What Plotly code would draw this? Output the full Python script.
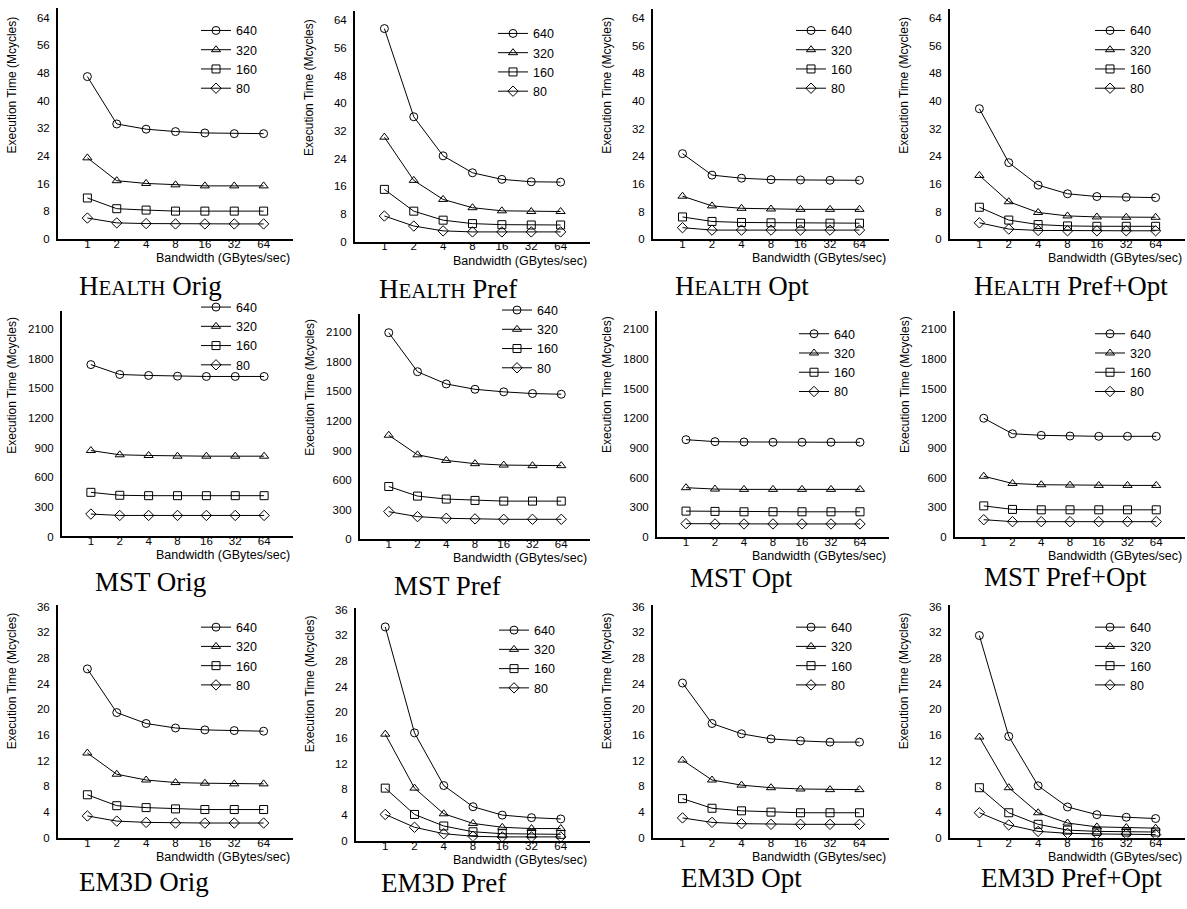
import math
import plotly.graph_objects as go

W, H = 1187, 909

# ---------------- data ----------------
bandwidth = [1, 2, 4, 8, 16, 32, 64]
bw_labels = ["1", "2", "4", "8", "16", "32", "64"]
series_names = ["640", "320", "160", "80"]

# each panel: rows = 640, 320, 160, 80 ; values in Mcycles
health_orig = [[47.0, 33.3, 31.8, 31.1, 30.7, 30.5, 30.5],
               [23.5, 16.9, 16.1, 15.7, 15.4, 15.4, 15.4],
               [11.9, 8.8, 8.4, 8.1, 8.1, 8.1, 8.1],
               [6.1, 4.7, 4.5, 4.4, 4.4, 4.4, 4.4]]
health_pref = [[61.6, 36.1, 24.8, 19.9, 18.0, 17.3, 17.2],
               [30.2, 17.7, 12.2, 9.8, 8.9, 8.7, 8.7],
               [15.1, 8.8, 6.2, 5.2, 4.9, 4.8, 4.8],
               [7.4, 4.5, 3.1, 2.8, 2.8, 2.8, 2.8]]
health_opt = [[24.8, 18.6, 17.7, 17.3, 17.2, 17.1, 17.1],
              [12.5, 9.7, 9.0, 8.8, 8.7, 8.7, 8.7],
              [6.5, 5.2, 4.9, 4.8, 4.7, 4.7, 4.7],
              [3.4, 2.7, 2.7, 2.7, 2.7, 2.7, 2.7]]
health_prefopt = [[37.8, 22.2, 15.7, 13.2, 12.4, 12.2, 12.1],
                  [18.5, 10.9, 7.8, 6.8, 6.5, 6.4, 6.4],
                  [9.3, 5.6, 4.3, 3.9, 3.8, 3.8, 3.8],
                  [4.8, 3.0, 2.6, 2.5, 2.5, 2.5, 2.5]]
mst_orig = [[1740, 1640, 1630, 1623, 1620, 1620, 1620],
            [870, 827, 820, 813, 813, 813, 813],
            [447, 417, 413, 413, 413, 413, 413],
            [227, 213, 213, 213, 213, 213, 213]]
mst_pref = [[2093, 1698, 1574, 1520, 1494, 1477, 1470],
            [1055, 857, 800, 767, 753, 747, 747],
            [536, 439, 409, 395, 388, 388, 388],
            [281, 231, 214, 208, 204, 204, 204]]
mst_opt = [[983, 963, 960, 957, 957, 957, 957],
           [497, 483, 480, 480, 480, 480, 480],
           [260, 257, 253, 253, 253, 253, 253],
           [133, 130, 130, 130, 130, 130, 130]]
mst_prefopt = [[1200, 1043, 1027, 1020, 1017, 1017, 1017],
               [613, 540, 527, 523, 520, 520, 520],
               [313, 277, 273, 273, 273, 273, 273],
               [173, 153, 153, 153, 153, 153, 153]]
em3d_orig = [[26.3, 19.5, 17.8, 17.1, 16.8, 16.7, 16.6],
             [13.2, 9.9, 9.0, 8.6, 8.5, 8.4, 8.4],
             [6.7, 5.0, 4.7, 4.5, 4.4, 4.4, 4.4],
             [3.4, 2.6, 2.4, 2.3, 2.3, 2.3, 2.3]]
em3d_pref = [[33.3, 16.8, 8.6, 5.3, 4.0, 3.6, 3.4],
             [16.6, 8.2, 4.2, 2.7, 2.1, 1.9, 1.9],
             [8.2, 4.1, 2.3, 1.4, 1.1, 1.1, 1.0],
             [4.1, 2.1, 1.1, 0.7, 0.6, 0.6, 0.6]]
em3d_opt = [[24.1, 17.8, 16.2, 15.4, 15.1, 14.9, 14.9],
            [12.1, 9.0, 8.2, 7.8, 7.6, 7.5, 7.5],
            [6.1, 4.6, 4.2, 4.0, 3.9, 3.9, 3.9],
            [3.1, 2.4, 2.2, 2.1, 2.1, 2.1, 2.1]]
em3d_prefopt = [[31.5, 15.8, 8.1, 4.8, 3.6, 3.2, 3.0],
                [15.7, 7.8, 3.9, 2.3, 1.7, 1.6, 1.5],
                [7.8, 3.9, 2.1, 1.2, 1.0, 0.9, 0.9],
                [3.9, 2.0, 1.0, 0.7, 0.6, 0.6, 0.5]]

SC = "<span style='font-size:21px'>EALTH</span>"
titles = [["H" + SC + " Orig", "H" + SC + " Pref", "H" + SC + " Opt", "H" + SC + " Pref+Opt"],
          ["MST Orig", "MST Pref", "MST Opt", "MST Pref+Opt"],
          ["EM3D Orig", "EM3D Pref", "EM3D Opt", "EM3D Pref+Opt"]]
panel_data = [[health_orig, health_pref, health_opt, health_prefopt],
              [mst_orig, mst_pref, mst_opt, mst_prefopt],
              [em3d_orig, em3d_pref, em3d_opt, em3d_prefopt]]

# ---------------- layout geometry (pixels) ----------------
row_ymax = [66.7, 2285, 36.2]
row_dtick = [8, 300, 4]
lefts = [[58, 355, 653, 950], [62, 360, 657, 955], [58, 356, 653, 950]]
rights = [[293, 590, 889, 1185], [293, 590, 889, 1185], [293, 590, 889, 1185]]
zeros = [[237, 239.5, 237.3, 237.3], [538, 541, 538.3, 538.3], [843, 846, 843, 843]]
tops = [[3.5, 6, 3.8, 3.8], [309.5, 312.5, 309.8, 309.8], [607.7, 610.7, 607.7, 607.7]]
ytitle_shift = [-46, -50, -46]
ytitle_from_top = [77, 74, 76]
title_pos = [[(151, 284), (448, 287), (742, 284), (1071, 284)],
             [(151, 584), (447, 588), (741, 580), (1065, 579)],
             [(144, 888), (443, 889), (741, 884), (1071, 884)]]
legend_sym = [[(218, 55), (515, 58), (813, 55), (1112, 55)],
              [(218, 335), (519, 338), (816, 362), (1112, 362)],
              [(218, 659), (516, 662), (813, 659), (1112, 659)]]

symbols = ["circle-open", "triangle-up-open", "square-open", "diamond-open"]
SANS = "Liberation Sans, Arial, Helvetica, sans-serif"
SERIF = "Liberation Serif, Times New Roman, serif"

fig = go.Figure()
layout = dict(
    width=W, height=H, margin=dict(l=0, r=0, t=0, b=0),
    paper_bgcolor="white", plot_bgcolor="white",
    font=dict(family=SANS, size=12, color="black"),
    annotations=[],
)

k = 0
for r in range(3):
    for c in range(4):
        k += 1
        xa = "xaxis" if k == 1 else f"xaxis{k}"
        ya = "yaxis" if k == 1 else f"yaxis{k}"
        xr = "x" if k == 1 else f"x{k}"
        yr = "y" if k == 1 else f"y{k}"
        lg = "legend" if k == 1 else f"legend{k}"
        data = panel_data[r][c]
        for i, name in enumerate(series_names):
            fig.add_trace(go.Scatter(
                x=bandwidth, y=data[i], name=name, mode="lines+markers",
                xaxis=xr, yaxis=yr, legend=lg,
                line=dict(color="black", width=1),
                marker=dict(symbol=symbols[i], size=8, color="black",
                            line=dict(color="black", width=1)),
                showlegend=True,
            ))
        layout[xa] = dict(
            domain=[lefts[r][c] / W, rights[r][c] / W],
            type="log", range=[math.log10(0.5), math.log10(128)],
            tickmode="array", tickvals=bandwidth, ticktext=bw_labels,
            showline=True, linecolor="black", linewidth=2,
            showgrid=False, zeroline=False, ticks="",
            ticklabelstandoff=-7,
            tickfont=dict(size=11.5, family=SANS, color="black"),
            anchor=yr, fixedrange=True,
        )
        layout[ya] = dict(
            domain=[1 - zeros[r][c] / H, 1 - tops[r][c] / H],
            range=[0, row_ymax[r]], dtick=row_dtick[r], tick0=0,
            showline=True, linecolor="black", linewidth=2,
            showgrid=False, zeroline=False, ticks="",
            ticklabelstandoff=4,
            tickfont=dict(size=11.5, family=SANS, color="black"),
            anchor=xr, fixedrange=True,
        )
        sx, sy = legend_sym[r][c]
        layout[lg] = dict(
            x=(sx - 22) / W, y=1 - sy / H, xanchor="left", yanchor="middle",
            xref="paper", yref="paper",
            bgcolor="rgba(0,0,0,0)", borderwidth=0, tracegroupgap=0,
            font=dict(size=12.5, family=SANS, color="black"),
        )
        # axis titles
        layout["annotations"].append(dict(
            text="Bandwidth (GBytes/sec)", xref=f"{xr} domain", yref=f"{yr} domain",
            x=1, y=0, xanchor="right", yanchor="middle", yshift=-19, xshift=-1,
            showarrow=False, font=dict(size=12.5, family=SANS, color="black"),
        ))
        layout["annotations"].append(dict(
            text="Execution Time (Mcycles)", xref=f"{xr} domain", yref=f"{yr} domain",
            x=0, y=1, xanchor="center", yanchor="middle", textangle=-90,
            xshift=ytitle_shift[r], yshift=-ytitle_from_top[r],
            showarrow=False, font=dict(size=12, family=SANS, color="black"),
        ))
        tx, ty = title_pos[r][c]
        layout["annotations"].append(dict(
            text=titles[r][c], xref="paper", yref="paper",
            x=tx / W, y=1 - ty / H, xanchor="center", yanchor="middle",
            showarrow=False, font=dict(size=27, family=SERIF, color="black"),
        ))

fig.update_layout(**layout)
fig.write_html("out.html", config={"displayModeBar": False})
